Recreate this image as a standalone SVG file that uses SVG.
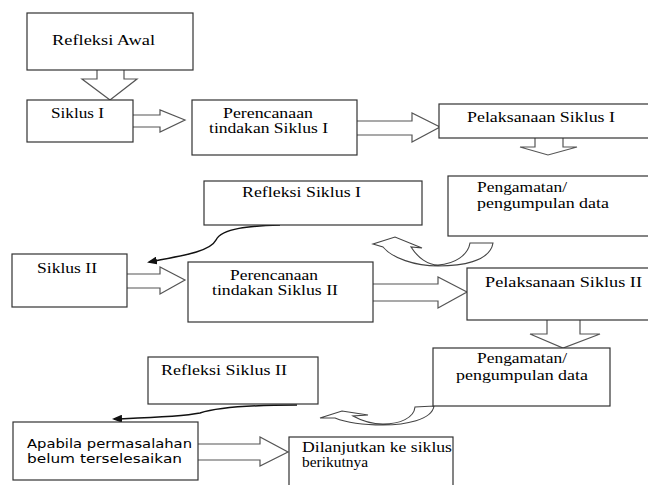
<svg xmlns="http://www.w3.org/2000/svg" width="648" height="485" viewBox="0 0 648 485">
<style>
.box{fill:#fff;stroke:#333;stroke-width:1.2}
.blk{fill:#fff;stroke:#555;stroke-width:1.2;stroke-linejoin:miter}
.crv{fill:none;stroke:#111;stroke-width:1.5}
.uarr{fill:#fff;stroke:#444;stroke-width:1.1}
</style>
<defs>
<marker id="ah" markerWidth="10" markerHeight="8" refX="8" refY="4" orient="auto" markerUnits="userSpaceOnUse">
<path d="M0,0 L10,4 L0,8 Z" fill="#111"/>
</marker>
</defs>
<rect width="648" height="485" fill="#fff"/>
<g id="connectors">
<polyline class="blk" points="97,70 97,79 82,79 110,100 137,79 124,79 124,70"/>
<polyline class="blk" points="133,115 160,115 160,110 185,120 160,132 160,127 133,127"/>
<polyline class="blk" points="357,121 412,121 412,113 440,127 412,142 412,135 357,135"/>
<polyline class="blk" points="535,138 535,147 520,147 548,155 577,147 563,147 563,138"/>
<polyline class="blk" points="127,274 160,274 160,267 185,280 160,294 160,288 127,288"/>
<polyline class="blk" points="373,284 438,284 438,277 467,292 438,308 438,301 373,301"/>
<polyline class="blk" points="547,320 547,334 530,334 563,348 600,334 580,334 580,320"/>
<polyline class="blk" points="198,444 260,444 260,437 288,452 260,466 260,460 198,460"/>
<path class="crv" d="M280,225 C250,226 222,228 216,240 C210,252 180,256 149,262" marker-end="url(#ah)"/>
<path class="crv" d="M297,405 C240,405 215,408 200,413 C180,417 140,418 114,419" marker-end="url(#ah)"/>
<path class="uarr" d="M493,243 C490,262 460,266 438,266 C415,266 392,258 383,247 L373,244 L395,237 L422,248 L411,247 C418,258 428,265 438,265 C455,264 468,255 470,243 Z"/>
<path class="uarr" d="M434,406 C432,420 405,425 383,425 C362,425 345,422 335,418 L320,418 L342,411 L368,415 L353,416 C362,421 372,424 383,424 C400,424 414,418 415,407 Z"/>
</g>
<g font-family="'Liberation Serif', 'Times New Roman', serif" font-size="15" fill="#000">
<g id="refleksi-awal"><rect class="box" x="27" y="13" width="166" height="57"/><text x="52" y="45" textLength="103" lengthAdjust="spacingAndGlyphs">Refleksi Awal</text></g>
<g id="siklus-1"><rect class="box" x="27" y="100" width="106" height="42"/><text x="51" y="118" textLength="53" lengthAdjust="spacingAndGlyphs">Siklus I</text></g>
<g id="perencanaan-1"><rect class="box" x="192" y="100" width="165" height="55"/><text x="223" y="118" textLength="90" lengthAdjust="spacingAndGlyphs">Perencanaan</text><text x="209" y="133" textLength="119" lengthAdjust="spacingAndGlyphs">tindakan Siklus I</text></g>
<g id="pelaksanaan-1"><rect class="box" x="439" y="104" width="215" height="34"/><text x="467" y="122" textLength="148" lengthAdjust="spacingAndGlyphs">Pelaksanaan Siklus I</text></g>
<g id="refleksi-1"><rect class="box" x="204" y="181" width="218" height="44"/><text x="242" y="197" textLength="119" lengthAdjust="spacingAndGlyphs">Refleksi Siklus I</text></g>
<g id="pengamatan-1"><rect class="box" x="448" y="176" width="206" height="60"/><text x="477" y="192" textLength="90" lengthAdjust="spacingAndGlyphs">Pengamatan/</text><text x="477" y="208" textLength="132" lengthAdjust="spacingAndGlyphs">pengumpulan data</text></g>
<g id="siklus-2"><rect class="box" x="12" y="254" width="115" height="53"/><text x="37" y="273" textLength="60" lengthAdjust="spacingAndGlyphs">Siklus II</text></g>
<g id="perencanaan-2"><rect class="box" x="188" y="262" width="185" height="60"/><text x="230" y="280" textLength="88" lengthAdjust="spacingAndGlyphs">Perencanaan</text><text x="212" y="295" textLength="126" lengthAdjust="spacingAndGlyphs">tindakan Siklus II</text></g>
<g id="pelaksanaan-2"><rect class="box" x="467" y="268" width="187" height="52"/><text x="485" y="287" textLength="157" lengthAdjust="spacingAndGlyphs">Pelaksanaan Siklus II</text></g>
<g id="pengamatan-2"><rect class="box" x="433" y="348" width="177" height="58"/><text x="477" y="363" textLength="90" lengthAdjust="spacingAndGlyphs">Pengamatan/</text><text x="456" y="380" textLength="132" lengthAdjust="spacingAndGlyphs">pengumpulan data</text></g>
<g id="refleksi-2"><rect class="box" x="148" y="357" width="170" height="47"/><text x="161" y="375" textLength="126" lengthAdjust="spacingAndGlyphs">Refleksi Siklus II</text></g>
<g id="apabila" font-family="'DejaVu Sans', 'Liberation Sans', sans-serif" font-size="12.5"><rect class="box" x="13" y="422" width="185" height="58"/><text x="27" y="448" textLength="165" lengthAdjust="spacingAndGlyphs">Apabila permasalahan</text><text x="27" y="463" textLength="155" lengthAdjust="spacingAndGlyphs">belum terselesaikan</text></g>
<g id="dilanjutkan"><rect class="box" x="289" y="437" width="164" height="55"/><text x="302" y="452" textLength="150" lengthAdjust="spacingAndGlyphs">Dilanjutkan ke siklus</text><text x="302" y="467" textLength="66" lengthAdjust="spacingAndGlyphs">berikutnya</text></g>
</g>
</svg>
